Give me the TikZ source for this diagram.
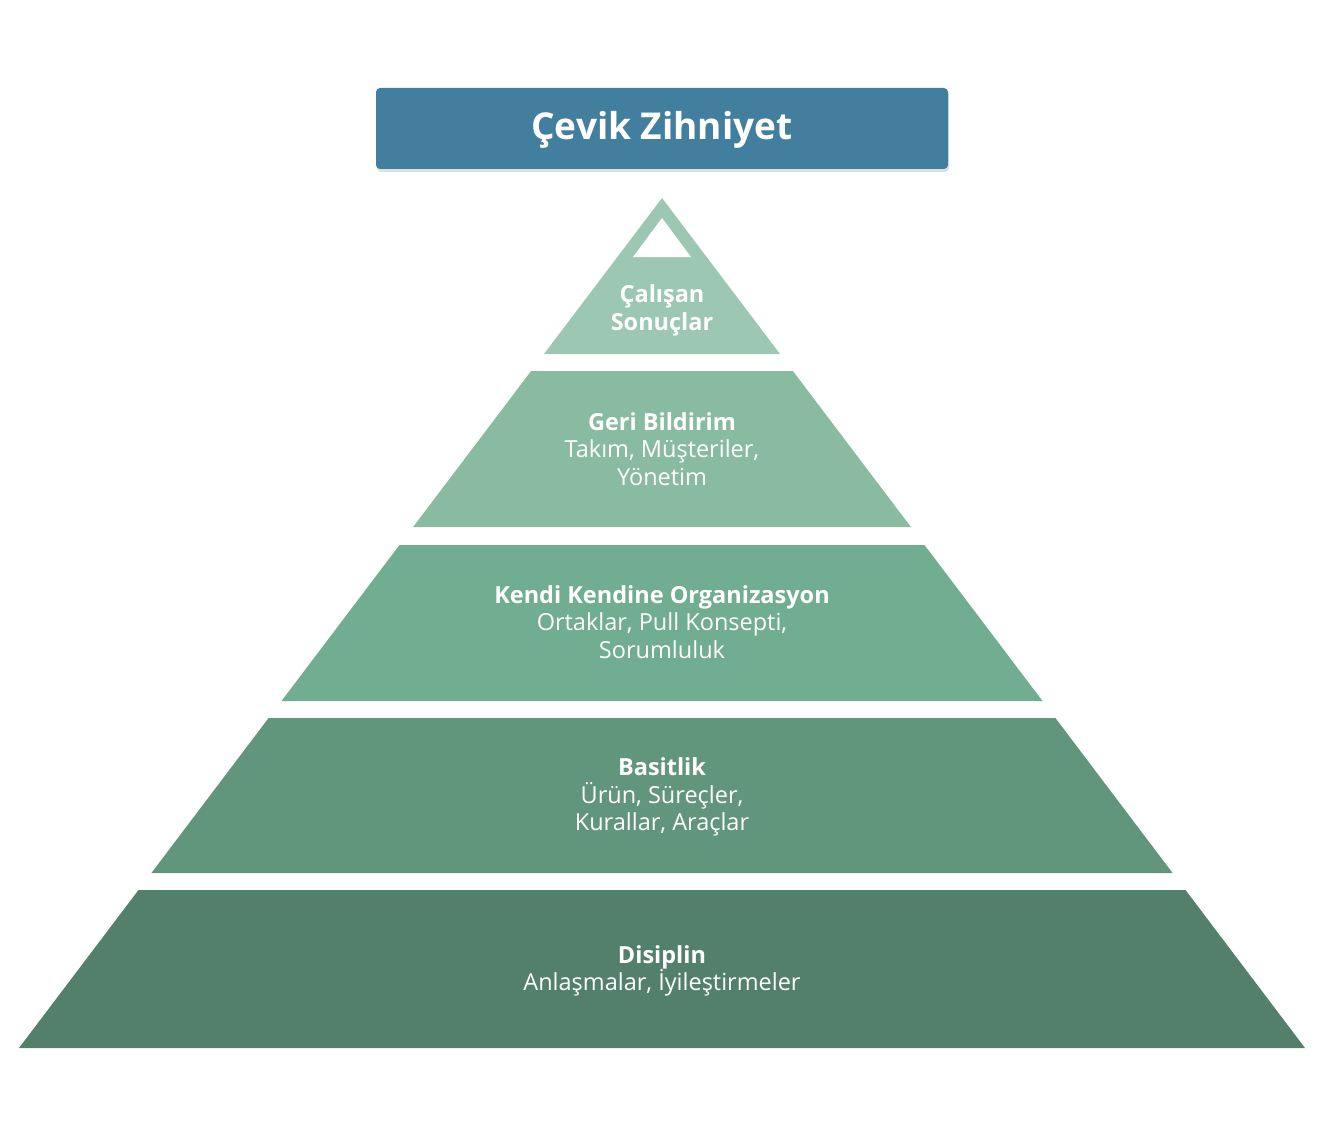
\documentclass[tikz,border=0pt]{standalone}
\usepackage{fontspec}
\setmainfont{Open Sans}
\usetikzlibrary{shadows}
\definecolor{titleblue}{HTML}{427F9E}
\definecolor{lay1}{HTML}{9CC7B3}
\definecolor{lay2}{HTML}{89BBA0}
\definecolor{lay3}{HTML}{70AD91}
\definecolor{lay4}{HTML}{61967D}
\definecolor{lay5}{HTML}{52806B}
\tikzset{
  laytext/.style={text=white, align=center, font=\fontsize{23.5}{27.4}\selectfont, inner sep=0pt},
}
\begin{document}
\begin{tikzpicture}[x=1pt,y=-1pt]
\useasboundingbox (0,0) rectangle (1324,1126);
% title
\node[fill=titleblue, rounded corners=4pt, minimum width=572pt, minimum height=81pt,
  drop shadow={shadow xshift=1pt, shadow yshift=-3pt, opacity=0.25}, inner sep=0pt] (title) at (662,128.5) {};
\node[text=white, font=\fontsize{37}{44}\selectfont\bfseries, inner sep=0pt] (titletext) at (662,130) {Çevik Zihniyet};
% layers
\fill[lay1] (662,198) -- (780,354) -- (544,354) -- cycle;
\fill[white] (662,218) -- (691,257) -- (633,257) -- cycle;
\fill[lay2] (531.1,371) -- (792.9,371) -- (910.9,527) -- (413.1,527) -- cycle;
\fill[lay3] (399.5,545) -- (924.5,545) -- (1042.5,701) -- (281.5,701) -- cycle;
\fill[lay4] (268.6,718) -- (1055.4,718) -- (1172.6,873) -- (151.4,873) -- cycle;
\fill[lay5] (138.5,890) -- (1185.5,890) -- (1305,1048) -- (19,1048) -- cycle;
% texts
\node[laytext] (t1) at (662,310.5) {\textbf{Çalışan}\\\textbf{Sonuçlar}};
\node[laytext] (t2) at (662,449) {\textbf{Geri Bildirim}\\Takım, Müşteriler,\\Yönetim};
\node[laytext] (t3) at (662,622) {\textbf{Kendi Kendine Organizasyon}\\Ortaklar, Pull Konsepti,\\Sorumluluk};
\node[laytext] (t4) at (662,797) {\textbf{Basitlik}\\Ürün, Süreçler,\\Kurallar, Araçlar};
\node[laytext] (t5) at (662,971) {\textbf{Disiplin}\\Anlaşmalar, İyileştirmeler};
\end{tikzpicture}
\end{document}
